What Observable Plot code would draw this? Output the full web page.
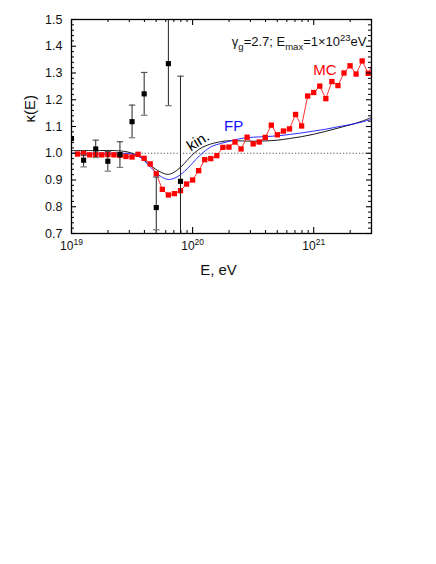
<!DOCTYPE html>
<html>
<head>
<meta charset="utf-8">
<script src="https://cdn.jsdelivr.net/npm/d3@7"></script>
<script src="https://cdn.jsdelivr.net/npm/@observablehq/plot@0.6"></script>
<style>
  html, body { margin: 0; padding: 0; background: #fff; }
  svg { display: block; }
</style>
</head>
<body>
<div id="chart"></div>
<script>
// ---- MC (red squares), log10(E/eV) and kappa ----
const mcLogE = [19.05, 19.10, 19.15, 19.20, 19.25, 19.30, 19.35, 19.40, 19.45, 19.50,
  19.55, 19.60, 19.65, 19.70, 19.75, 19.80, 19.85, 19.90, 19.95, 20.00,
  20.05, 20.10, 20.15, 20.20, 20.25, 20.30, 20.35, 20.40, 20.45, 20.50,
  20.55, 20.60, 20.65, 20.70, 20.75, 20.80, 20.85, 20.90, 20.95, 21.00,
  21.05, 21.10, 21.15, 21.20, 21.25, 21.30, 21.35, 21.40, 21.45, 21.50];
const mcKappa = [0.997, 0.999, 0.994, 0.995, 0.994, 0.995, 0.994, 0.992, 0.988, 0.986,
  0.996, 0.981, 0.960, 0.923, 0.865, 0.844, 0.849, 0.860, 0.885, 0.900,
  0.935, 0.976, 0.980, 0.991, 1.022, 1.023, 1.042, 1.016, 1.060, 1.035,
  1.042, 1.059, 1.105, 1.069, 1.083, 1.091, 1.145, 1.102, 1.214, 1.227,
  1.251, 1.204, 1.268, 1.253, 1.300, 1.327, 1.296, 1.345, 1.299, 1.340];

// ---- measured data (black squares with error bars) ----
const dataLogE  = [19.0, 19.1, 19.2, 19.3, 19.4, 19.5, 19.6, 19.7, 19.8, 19.9];
const dataKappa = [1.055, 0.974, 1.016, 0.970, 0.995, 1.118, 1.222, 0.797, 1.335, 0.895];
const dataLo    = [null, 0.949, 0.984, 0.933, 0.947, 1.058, 1.142, 0.714, 1.178, 0.600];
const dataHi    = [null, 0.993, 1.049, 1.007, 1.043, 1.180, 1.302, 0.911, 1.600, 1.288];

// ---- kinetic-equation curve (black) ----
const kinLogE = [19.0, 19.2, 19.35, 19.45, 19.5, 19.57, 19.65, 19.735, 19.8, 19.87,
  19.93, 19.98, 20.05, 20.12, 20.23, 20.31, 20.4, 20.5, 20.6, 20.7,
  20.8, 20.9, 21.0, 21.1, 21.2, 21.3, 21.4, 21.477];
const kinKappa = [1.010, 1.010, 1.010, 1.006, 1.000, 0.986, 0.955, 0.930, 0.921, 0.936,
  0.961, 0.986, 1.014, 1.030, 1.043, 1.047, 1.046, 1.045, 1.046, 1.049,
  1.055, 1.062, 1.071, 1.082, 1.094, 1.106, 1.120, 1.134];

// ---- Fokker-Planck curve (blue) ----
const fpLogE = [19.0, 19.2, 19.4, 19.5, 19.57, 19.65, 19.735, 19.8, 19.87, 19.955,
  20.025, 20.09, 20.16, 20.23, 20.31, 20.4, 20.5, 20.6, 20.7, 20.8,
  20.9, 21.0, 21.1, 21.2, 21.3, 21.4, 21.477];
const fpKappa = [1.000, 1.000, 1.000, 0.997, 0.984, 0.949, 0.914, 0.902, 0.911, 0.942,
  0.976, 1.004, 1.026, 1.036, 1.046, 1.055, 1.060, 1.062, 1.065, 1.070,
  1.076, 1.083, 1.090, 1.099, 1.107, 1.117, 1.127];

// ---- axes ----
const xDomain = [1e19, 3e21];
const yDomain = [0.7, 1.5];
const xMajorTicks = [1e19, 1e20, 1e21];
const xTickExp = ["19", "20", "21"];
const xMinorTicks = [2e19, 3e19, 4e19, 5e19, 6e19, 7e19, 8e19, 9e19,
  2e20, 3e20, 4e20, 5e20, 6e20, 7e20, 8e20, 9e20, 2e21];
const yMajorTicks = [0.7, 0.8, 0.9, 1.0, 1.1, 1.2, 1.3, 1.4, 1.5];
const yMinorTicks = d3.range(0, 41).map(i => 0.7 + i * 0.02)
  .filter(v => Math.abs(v * 10 - Math.round(v * 10)) > 1e-6);

// ---- labels ----
const annotation = "γg=2.7; Emax=1×10^23eV";
const curveLabels = [
  {logE: 21.093, k: 1.312, text: "MC",   color: "#ff0000", rotate: 0},
  {logE: 20.338, k: 1.101, text: "FP",   color: "#1010ff", rotate: 0},
  {logE: 20.045, k: 1.045, text: "kin.", color: "#000000", rotate: -32}
];

// tables
const mc = mcLogE.map((l, i) => ({E: 10 ** l, k: mcKappa[i]}));
const meas = dataLogE.map((l, i) => ({E: 10 ** l, k: dataKappa[i], lo: dataLo[i], hi: dataHi[i]}));
const kin = kinLogE.map((l, i) => ({E: 10 ** l, k: kinKappa[i]}));
const fp = fpLogE.map((l, i) => ({E: 10 ** l, k: fpKappa[i]}));
const labs = curveLabels.map(d => ({...d, E: 10 ** d.logE}));

const W = 436, H = 564;
const mL = 71, mR = 65, mT = 19, mB = 331;
const fw = W - mL - mR, fh = H - mT - mB;

const capSymbol = {
  draw(ctx, size) {
    const r = Math.sqrt(size / Math.PI);
    ctx.moveTo(-r, 0);
    ctx.lineTo(r, 0);
  }
};

const FONT = "'Liberation Sans', Arial, Helvetica, sans-serif";

const chart = Plot.plot({
  width: W,
  height: H,
  marginLeft: mL,
  marginRight: mR,
  marginTop: mT,
  marginBottom: mB,
  style: {fontFamily: FONT, fontSize: "12.5px", background: "#fff", color: "#000", overflow: "visible"},
  x: {type: "log", domain: xDomain, axis: null},
  y: {domain: yDomain, axis: null},
  marks: [
    // reference line at 1
    Plot.ruleY([1.0], {stroke: "#444", strokeWidth: 0.9, strokeDasharray: "1.2,2"}),
    // curves
    Plot.line(kin, {x: "E", y: "k", stroke: "#000", strokeWidth: 0.9, curve: "catmull-rom", clip: true}),
    Plot.line(fp, {x: "E", y: "k", stroke: "#1515ff", strokeWidth: 0.9, curve: "catmull-rom", clip: true}),
    // MC
    Plot.line(mc, {x: "E", y: "k", stroke: "#ff1a1a", strokeWidth: 0.9, clip: true}),
    Plot.dot(mc, {x: "E", y: "k", symbol: "square", r: 3, fill: "#ff0000", stroke: "none", clip: true}),
    // data with error bars
    Plot.ruleX(meas.filter(d => d.lo != null), {x: "E", y1: "lo", y2: "hi", stroke: "#222", strokeWidth: 1, clip: true}),
    Plot.dot(meas.filter(d => d.lo != null), {x: "E", y: "lo", symbol: capSymbol, r: 3.2, stroke: "#777", strokeWidth: 1.2, fill: "none", clip: true}),
    Plot.dot(meas.filter(d => d.hi != null), {x: "E", y: "hi", symbol: capSymbol, r: 3.2, stroke: "#555", strokeWidth: 1.2, fill: "none", clip: true}),
    Plot.dot(meas, {x: "E", y: "k", symbol: "square", r: 2.9, fill: "#000", stroke: "none", clip: true}),
    // inward ticks
    Plot.tickX(xMajorTicks, {x: d => d, insetTop: fh - 6, stroke: "#000", strokeWidth: 1.1}),
    Plot.tickX(xMajorTicks, {x: d => d, insetBottom: fh - 6, stroke: "#000", strokeWidth: 1.1}),
    Plot.tickX(xMinorTicks, {x: d => d, insetTop: fh - 3, stroke: "#000", strokeWidth: 1}),
    Plot.tickX(xMinorTicks, {x: d => d, insetBottom: fh - 3, stroke: "#000", strokeWidth: 1}),
    Plot.tickY(yMajorTicks, {y: d => d, insetRight: fw - 5, stroke: "#000", strokeWidth: 1.1}),
    Plot.tickY(yMajorTicks, {y: d => d, insetLeft: fw - 5, stroke: "#000", strokeWidth: 1.1}),
    Plot.tickY(yMinorTicks, {y: d => d, insetRight: fw - 3, stroke: "#000", strokeWidth: 1}),
    Plot.tickY(yMinorTicks, {y: d => d, insetLeft: fw - 3, stroke: "#000", strokeWidth: 1}),
    Plot.frame({stroke: "#000", strokeWidth: 1.3}),
    // tick labels
    Plot.text(yMajorTicks, {y: d => d, frameAnchor: "left", textAnchor: "end", dx: -9, text: d => d.toFixed(1), fontSize: 12.5, fill: "#111"}),
    Plot.text(xMajorTicks, {x: d => d, frameAnchor: "bottom", lineAnchor: "middle", dy: 13, text: (d, i) => "10^" + xTickExp[i], fontSize: 12, fill: "#111"}),
    // axis titles
    Plot.text(["κ(E)"], {frameAnchor: "left", dx: -41, dy: -4, rotate: -90, text: d => d, fontSize: 15, fill: "#111"}),
    Plot.text(["E, eV"], {frameAnchor: "bottom", lineAnchor: "bottom", dy: 41, dx: -3, text: d => d, fontSize: 15, fill: "#111"}),
    // annotation
    Plot.text([annotation], {frameAnchor: "top-right", textAnchor: "end", lineAnchor: "middle", dx: -5, dy: 22, text: d => d, fontSize: 13, fill: "#111"}),
    // curve labels
    Plot.text(labs, {x: "E", y: "k", text: "text", fill: "color", rotate: "rotate", fontSize: 15})
  ]
});

// rich text (sub/superscripts) via tspans
function richText(el, parts) {
  const s = d3.select(el);
  s.text(null);
  let cur = 0;
  for (const p of parts) {
    const shift = p.shift || 0;
    const t = s.append("tspan").text(p.t);
    if (shift !== cur) t.attr("dy", (shift - cur) + "px");
    if (p.size) t.attr("font-size", p.size);
    cur = shift;
  }
}
d3.select(chart).selectAll("text").each(function () {
  const txt = this.textContent;
  if (txt.startsWith("10^")) {
    richText(this, [{t: "10"}, {t: txt.slice(3), shift: -5, size: 8.5}]);
  } else if (txt === annotation) {
    richText(this, [
      {t: "γ"}, {t: "g", shift: 4, size: 9.5},
      {t: "=2.7; E"}, {t: "max", shift: 4, size: 9.5},
      {t: "=1×10"}, {t: "23", shift: -5, size: 9.5},
      {t: "eV"}
    ]);
  }
});

document.getElementById("chart").appendChild(chart);
</script>
</body>
</html>
